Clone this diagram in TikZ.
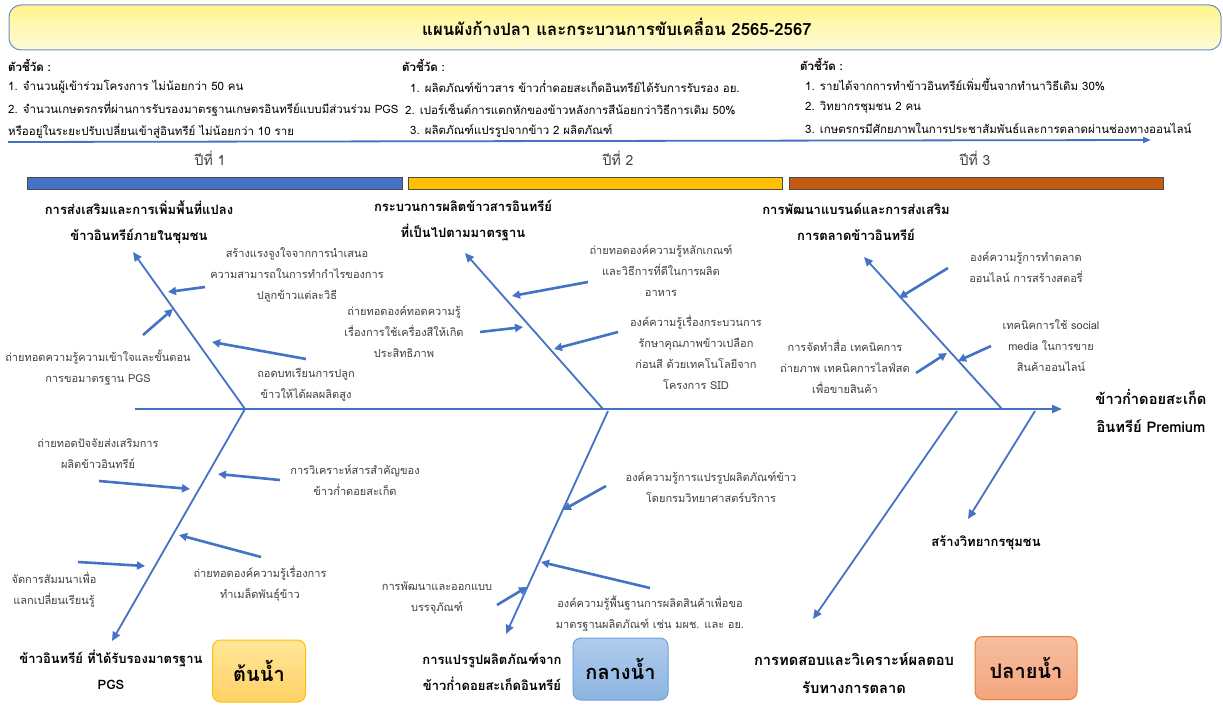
\documentclass[tikz,border=0pt]{standalone}
\usepackage{fontspec}
\setmainfont[Script=Thai]{Loma}
\usetikzlibrary{arrows.meta}
\definecolor{boneblue}{HTML}{4472C4}
\definecolor{lblgray}{HTML}{404040}
\definecolor{titleborder}{HTML}{6F8FC7}
\definecolor{baryellow}{HTML}{FFC000}
\definecolor{barorange}{HTML}{C55A11}
\tikzset{
  spine/.style={draw=boneblue, line width=2.2pt, -{Triangle[length=10pt,width=8pt]}},
  bone/.style={draw=boneblue, line width=1.8pt, -{Triangle[length=9pt,width=8pt]}},
  rib/.style={draw=boneblue, line width=2.6pt, -{Triangle[length=8pt,width=8pt]}},
  lbl/.style={font=\fontsize{11}{21}\selectfont, text=lblgray, align=center, inner sep=0pt},
  head/.style={font=\bfseries\fontsize{13}{26}\selectfont, text=black, align=center, inner sep=0pt},
  bighead/.style={font=\bfseries\fontsize{14.7}{28}\selectfont, text=black, align=center, inner sep=0pt},
  ind/.style={font=\fontsize{11.5}{22}\selectfont, text=black, anchor=west, inner sep=0pt},
  indh/.style={font=\bfseries\fontsize{11.5}{22}\selectfont, text=black, anchor=west, inner sep=0pt},
  year/.style={font=\fontsize{14}{16}\selectfont, text=lblgray, inner sep=0pt},
  bar/.style={draw=black!70, line width=0.6pt},
  stage/.style={rounded corners=8pt, line width=1pt, minimum width=93pt, minimum height=62pt,
    font=\bfseries\fontsize{20}{22}\selectfont, text=black, inner sep=0pt}
}
\begin{document}
\begin{tikzpicture}[x=1pt,y=-1pt]
\useasboundingbox (0,0) rectangle (1223,709);
\fill[white] (0,0) rectangle (1223,709);

% title
\node[draw=titleborder, line width=1pt, rounded corners=12pt, top color={rgb,255:red,255;green,244;blue,140}, bottom color={rgb,255:red,255;green,252;blue,218},
  minimum width=1212pt, minimum height=45pt, inner sep=0pt] (titlebox) at (615,27.5) {};
\node[font=\bfseries\fontsize{16.8}{19}\selectfont, inner sep=0pt] (title) at (617,27) {แผนผังก้างปลา และกระบวนการขับเคลื่อน 2565-2567};

% indicators column 1
\node[indh] (c1h) at (8,65) {ตัวชี้วัด :};
\node[ind] (c1a) at (8,87) {1. จำนวนผู้เข้าร่วมโครงการ ไม่น้อยกว่า 50 คน};
\node[ind] (c1b) at (8,109) {2. จำนวนเกษตรกรที่ผ่านการรับรองมาตรฐานเกษตรอินทรีย์แบบมีส่วนร่วม PGS};
\node[ind] (c1c) at (8,131) {หรืออยู่ในระยะปรับเปลี่ยนเข้าสู่อินทรีย์ ไม่น้อยกว่า 10 ราย};
% column 2
\node[indh] (c2h) at (402,65) {ตัวชี้วัด :};
\node[ind] (c2a) at (410,87) {1. ผลิตภัณฑ์ข้าวสาร ข้าวก่ำดอยสะเก็ดอินทรีย์ได้รับการรับรอง อย.};
\node[ind] (c2b) at (405,109) {2. เปอร์เซ็นต์การแตกหักของข้าวหลังการสีน้อยกว่าวิธีการเดิม 50\%};
\node[ind] (c2c) at (410,131) {3. ผลิตภัณฑ์แปรรูปจากข้าว 2 ผลิตภัณฑ์};
% column 3
\node[indh] (c3h) at (800,64) {ตัวชี้วัด :};
\node[ind] (c3a) at (805,85) {1. รายได้จากการทำข้าวอินทรีย์เพิ่มขึ้นจากทำนาวิธีเดิม 30\%};
\node[ind] (c3b) at (805,107) {2. วิทยากรชุมชน 2 คน};
\node[ind] (c3c) at (805,128) {3. เกษตรกรมีศักยภาพในการประชาสัมพันธ์และการตลาดผ่านช่องทางออนไลน์};

% timeline
\coordinate (tl0) at (8,142);
\coordinate (tl1) at (1151,140);
\draw[draw=boneblue, line width=1.8pt, -{Triangle[length=8pt,width=6pt]}] (tl0) -- (tl1);
\node[year] (y1) at (210,158) {ปีที่ 1};
\node[year] (y2) at (618,158) {ปีที่ 2};
\node[year] (y3) at (975,158) {ปีที่ 3};
\draw[bar, fill=boneblue] (27,177) rectangle (402,189);
\draw[bar, fill=baryellow] (408,177) rectangle (782,189);
\draw[bar, fill=barorange] (789,177) rectangle (1163,189);

% spine
\coordinate (s0) at (135,409);
\coordinate (s1) at (1062,409);
\draw[spine] (s0) -- (s1);

% top bones
\coordinate (t1a) at (245,409); \coordinate (t1b) at (133,252);
\coordinate (t2a) at (603,409); \coordinate (t2b) at (465,253);
\coordinate (t3a) at (1002,409); \coordinate (t3b) at (864,257);
\draw[bone] (t1a) -- (t1b);
\draw[bone] (t2a) -- (t2b);
\draw[bone] (t3a) -- (t3b);
% bottom bones
\coordinate (b1a) at (245,409); \coordinate (b1b) at (112,641);
\coordinate (b2a) at (608,411); \coordinate (b2b) at (506,634);
\coordinate (b3a) at (957,411); \coordinate (b3b) at (813,619);
\coordinate (b4a) at (1035,411); \coordinate (b4b) at (968,519);
\draw[bone] (b1a) -- (b1b);
\draw[bone] (b2a) -- (b2b);
\draw[bone] (b3a) -- (b3b);
\draw[bone] (b4a) -- (b4b);

% ribs top bone 1
\coordinate (r11a) at (205,287); \coordinate (r11b) at (168,292);
\coordinate (r12a) at (143,335); \coordinate (r12b) at (173,309);
\coordinate (r13a) at (306,359); \coordinate (r13b) at (212,342);
% ribs top bone 2
\coordinate (r21a) at (588,282); \coordinate (r21b) at (512,296);
\coordinate (r22a) at (480,332); \coordinate (r22b) at (523,327);
\coordinate (r23a) at (618,332); \coordinate (r23b) at (554,349);
% ribs top bone 3
\coordinate (r31a) at (948,268); \coordinate (r31b) at (899,298);
\coordinate (r32a) at (916,373); \coordinate (r32b) at (947,353);
\coordinate (r33a) at (991,346); \coordinate (r33b) at (958,361);
% ribs bottom bone 1
\coordinate (q11a) at (99,481); \coordinate (q11b) at (190,489);
\coordinate (q12a) at (280,480); \coordinate (q12b) at (218,474);
\coordinate (q13a) at (261,557); \coordinate (q13b) at (179,535);
\coordinate (q14a) at (78,562); \coordinate (q14b) at (145,566);
% ribs bottom bone 2
\coordinate (q21a) at (606,486); \coordinate (q21b) at (563,510);
\coordinate (q22a) at (650,588); \coordinate (q22b) at (541,562);
\coordinate (q23a) at (497,605); \coordinate (q23b) at (527,587);
\foreach \r in {r11,r12,r13,r21,r22,r23,r31,r32,r33,q11,q12,q13,q14,q21,q22,q23}
  \draw[rib] (\r a) -- (\r b);

% headings top
\node[head] (h1) at (139,222) {การส่งเสริมและการเพิ่มพื้นที่แปลง\\ข้าวอินทรีย์ภายในชุมชน};
\node[head] (h2) at (463,221) {กระบวนการผลิตข้าวสารอินทรีย์\\ที่เป็นไปตามมาตรฐาน};
\node[head] (h3) at (856,222) {การพัฒนาแบรนด์และการส่งเสริม\\การตลาดข้าวอินทรีย์};
\node[bighead] (head) at (1151,411) {ข้าวก่ำดอยสะเก็ด\\อินทรีย์ Premium};

% top labels
\node[lbl] (l11) at (297,275) {สร้างแรงจูงใจจากการนำเสนอ\\ความสามารถในการทำกำไรของการ\\ปลูกข้าวแต่ละวิธี};
\node[lbl] (l12) at (98,368) {ถ่ายทอดความรู้ความเข้าใจและขั้นตอน\\การขอมาตรฐาน PGS};
\node[lbl] (l13) at (306,385) {ถอดบทเรียนการปลูก\\ข้าวให้ได้ผลผลิตสูง};
\node[lbl] (l21) at (661,271) {ถ่ายทอดองค์ความรู้หลักเกณฑ์\\และวิธีการที่ดีในการผลิต\\อาหาร};
\node[lbl] (l22) at (404,332) {ถ่ายทอดองค์ทอดความรู้\\เรื่องการใช้เครื่องสีให้เกิด\\ประสิทธิภาพ};
\node[lbl] (l23) at (696,352) {องค์ความรู้เรื่องกระบวนการ\\รักษาคุณภาพข้าวเปลือก\\ก่อนสี ด้วยเทคโนโลยีจาก\\โครงการ SID};
\node[lbl] (l31) at (1026,267) {องค์ความรู้การทำตลาด\\ออนไลน์ การสร้างสตอรี่};
\node[lbl] (l32) at (845,367) {การจัดทำสื่อ เทคนิคการ\\ถ่ายภาพ เทคนิคการไลฟ์สด\\เพื่อขายสินค้า};
\node[lbl] (l33) at (1051,346) {เทคนิคการใช้ social\\media ในการขาย\\สินค้าออนไลน์};

% bottom labels
\node[lbl] (m11) at (98,454) {ถ่ายทอดปัจจัยส่งเสริมการ\\ผลิตข้าวอินทรีย์};
\node[lbl] (m12) at (355,480) {การวิเคราะห์สารสำคัญของ\\ข้าวก่ำดอยสะเก็ด};
\node[lbl] (m13) at (260,584) {ถ่ายทอดองค์ความรู้เรื่องการ\\ทำเมล็ดพันธุ์ข้าว};
\node[lbl] (m14) at (54,590) {จัดการสัมมนาเพื่อ\\แลกเปลี่ยนเรียนรู้};
\node[lbl] (m21) at (711,487) {องค์ความรู้การแปรรูปผลิตภัณฑ์ข้าว\\โดยกรมวิทยาศาสตร์บริการ};
\node[lbl] (m22) at (437,598) {การพัฒนาและออกแบบ\\บรรจุภัณฑ์};
\node[lbl] (m23) at (650,614) {องค์ความรู้พื้นฐานการผลิตสินค้าเพื่อขอ\\มาตรฐานผลิตภัณฑ์ เช่น มผช. และ อย.};
\node[head] (m41) at (986,543) {สร้างวิทยากรชุมชน};

% bottom headings
\node[head] (g1) at (111,670) {ข้าวอินทรีย์ ที่ได้รับรองมาตรฐาน\\PGS};
\node[head] (g2) at (492,672) {การแปรรูปผลิตภัณฑ์จาก\\ข้าวก่ำดอยสะเก็ดอินทรีย์};
\node[bighead] (g3) at (854,673) {การทดสอบและวิเคราะห์ผลตอบ\\รับทางการตลาด};

% stage boxes
\node[stage, draw={rgb,255:red,255;green,192;blue,0}, top color={rgb,255:red,255;green,230;blue,153}, bottom color={rgb,255:red,255;green,209;blue,102}] (st1) at (259,671) {ต้นน้ำ};
\node[stage, minimum width=95pt, draw={rgb,255:red,110;green,160;blue,215}, top color={rgb,255:red,175;green,204;blue,236}, bottom color={rgb,255:red,140;green,180;blue,225}] (st2) at (620.5,669) {กลางน้ำ};
\node[stage, minimum width=102pt, minimum height=63pt, draw={rgb,255:red,237;green,125;blue,49}, top color={rgb,255:red,246;green,190;blue,160}, bottom color={rgb,255:red,244;green,165;blue,125}] (st3) at (1026,668) {ปลายน้ำ};
\end{tikzpicture}
\end{document}
